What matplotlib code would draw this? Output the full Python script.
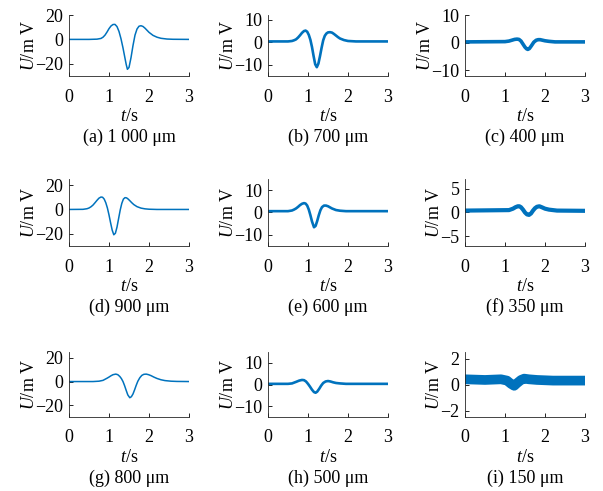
import matplotlib
matplotlib.use("Agg")
import matplotlib.pyplot as plt

plt.rcParams['font.family'] = 'Liberation Serif'
plt.rcParams['mathtext.fontset'] = 'custom'
plt.rcParams['mathtext.it'] = 'Liberation Serif:italic'
plt.rcParams['mathtext.rm'] = 'Liberation Serif'
plt.rcParams['font.size'] = 13

BLUE = "#0072BD"

# waveform key points (t in s, U in mV)
t_a = [0, 0.5, 0.7, 0.8, 0.85, 0.9, 0.95, 1.0, 1.05, 1.1, 1.15, 1.2, 1.25, 1.3, 1.35, 1.4, 1.43, 1.46, 1.5, 1.55,
       1.6, 1.65, 1.7, 1.75, 1.8, 1.85, 1.9, 1.95, 2.0, 2.1, 2.2, 2.3, 2.45, 2.6, 3.0]
u_a = [0, 0, 0.2, 0.8, 1.8, 3.5, 6, 8.8, 11, 12.2, 12.3, 10.5, 6.5, 0.5, -7, -15.5, -20.5, -24.5, -23, -15,
       -5, 3.5, 8.5, 10.8, 11.2, 10.6, 9.2, 7.5, 5.8, 3.3, 1.8, 0.9, 0.3, 0.1, 0]

t_b = [0, 0.5, 0.6, 0.65, 0.7, 0.75, 0.8, 0.85, 0.9, 0.94, 0.98, 1.02, 1.06, 1.1, 1.14, 1.18, 1.22, 1.26, 1.3,
       1.34, 1.38, 1.42, 1.46, 1.5, 1.55, 1.6, 1.65, 1.7, 1.75, 1.8, 1.9, 2.0, 2.2, 3.0]
u_b = [0.3, 0.3, 0.5, 0.8, 1.2, 2.0, 3.0, 4.1, 4.9, 5.1, 4.6, 3.2, 1.0, -2.2, -6.2, -9.8, -11.1, -9.5, -6.2,
       -2.5, 0.8, 2.8, 3.8, 4.3, 4.4, 4.2, 3.6, 2.9, 2.2, 1.6, 0.9, 0.5, 0.3, 0.3]

t_c = [0, 1.0, 1.1, 1.17, 1.24, 1.3, 1.35, 1.4, 1.45, 1.5, 1.54, 1.57, 1.61, 1.66, 1.72, 1.78, 1.83, 1.88, 1.94,
       2.0, 2.1, 2.25, 3.0]
u_c = [0.3, 0.4, 0.6, 0.9, 1.2, 1.3, 1.2, 0.6, -0.5, -1.6, -2.2, -2.4, -2.1, -1.1, 0.2, 0.9, 1.1, 1.1, 0.9,
       0.7, 0.5, 0.3, 0.3]

t_d = [0, 0.35, 0.45, 0.5, 0.55, 0.6, 0.65, 0.7, 0.75, 0.8, 0.84, 0.88, 0.92, 0.96, 1.0, 1.04, 1.08, 1.12, 1.16,
       1.2, 1.24, 1.28, 1.32, 1.36, 1.4, 1.44, 1.48, 1.52, 1.57, 1.62, 1.7, 1.8, 1.9, 2.0, 2.2, 3.0]
u_d = [0, 0.1, 0.6, 1.2, 2.2, 3.6, 5.5, 7.5, 9.3, 10.2, 10.0, 8.5, 5.5, 1.2, -4.5, -11, -17, -20.8, -19.5,
       -14.5, -7.5, -0.5, 5, 8.5, 9.7, 9.5, 8.5, 7.2, 5.5, 4.0, 2.3, 1.1, 0.5, 0.2, 0, 0]

t_e = [0, 0.5, 0.6, 0.65, 0.7, 0.75, 0.8, 0.85, 0.9, 0.94, 0.98, 1.02, 1.06, 1.1, 1.15, 1.19, 1.23, 1.27, 1.31,
       1.35, 1.4, 1.45, 1.5, 1.55, 1.6, 1.7, 1.8, 1.95, 3.0]
u_e = [0.6, 0.6, 0.9, 1.3, 1.8, 2.5, 3.3, 3.9, 4.2, 4.0, 3.1, 1.3, -1.2, -4.0, -6.6, -6.0, -3.8, -1.2, 1.0,
       2.4, 3.1, 3.1, 2.8, 2.3, 1.8, 1.1, 0.8, 0.6, 0.6]

t_f = [0, 1.1, 1.2, 1.26, 1.32, 1.36, 1.4, 1.45, 1.5, 1.55, 1.6, 1.65, 1.7, 1.75, 1.8, 1.86, 1.92, 2.0, 2.1,
       2.3, 3.0]
u_f = [0.4, 0.5, 0.8, 1.1, 1.3, 1.3, 1.1, 0.6, 0.0, -0.4, -0.5, -0.2, 0.4, 0.9, 1.2, 1.3, 1.1, 0.8, 0.6,
       0.4, 0.35]

t_g = [0, 0.6, 0.75, 0.85, 0.95, 1.0, 1.05, 1.1, 1.17, 1.22, 1.27, 1.31, 1.35, 1.39, 1.43, 1.47, 1.52, 1.56,
       1.6, 1.64, 1.68, 1.72, 1.77, 1.82, 1.87, 1.93, 1.99, 2.05, 2.12, 2.2, 2.3, 2.4, 2.55, 2.7, 3.0]
u_g = [0, 0, 0.3, 1.0, 2.8, 3.8, 4.9, 5.8, 6.3, 5.8, 4.3, 2.5, 0, -3.5, -7.5, -11.3, -13.7, -12.8,
       -10.5, -7.0, -3.2, 0.2, 3.2, 5.2, 6.1, 6.3, 5.8, 5.0, 3.8, 2.6, 1.5, 0.8, 0.3, 0.1, 0]

t_h = [0, 0.5, 0.6, 0.7, 0.78, 0.85, 0.9, 0.95, 1.0, 1.05, 1.1, 1.15, 1.19, 1.23, 1.28, 1.33, 1.38, 1.44, 1.5,
       1.56, 1.63, 1.7, 1.8, 1.95, 3.0]
u_h = [0.3, 0.3, 0.5, 1.2, 1.8, 2.1, 2.0, 1.4, 0.3, -1.0, -2.4, -3.5, -3.8, -3.3, -2.0, -0.5, 0.7, 1.4, 1.6,
       1.4, 1.0, 0.7, 0.5, 0.3, 0.3]

t_i = [0, 0.5, 0.9, 1.05, 1.15, 1.23, 1.3, 1.4, 1.48, 1.6, 1.8, 2.2, 2.6, 3.0]
u_i = [0.4, 0.35, 0.4, 0.3, 0.05, -0.1, 0.1, 0.35, 0.45, 0.4, 0.35, 0.3, 0.3, 0.3]

captions = ["(a) 1 000 μm", "(b) 700 μm", "(c) 400 μm",
            "(d) 900 μm", "(e) 600 μm", "(f) 350 μm",
            "(g) 800 μm", "(h) 500 μm", "(i) 150 μm"]
series = [(t_a, u_a), (t_b, u_b), (t_c, u_c),
          (t_d, u_d), (t_e, u_e), (t_f, u_f),
          (t_g, u_g), (t_h, u_h), (t_i, u_i)]
ylims = [(-30, 20), (-15, 12), (-12, 10),
         (-30, 25), (-15, 15), (-7, 7),
         (-30, 25), (-15, 15), (-2.5, 2.5)]
yticks = [[-20, 0, 20], [-10, 0, 10], [-10, 0, 10],
          [-20, 0, 20], [-10, 0, 10], [-5, 0, 5],
          [-20, 0, 20], [-10, 0, 10], [-2, 0, 2]]
widths = [1.1, 1.9, 2.6, 1.1, 1.9, 3.0, 1.1, 1.9, 7.0]

W, H = 603, 491
fig = plt.figure(figsize=(W / 100, H / 100), dpi=100)
lefts = [69, 268, 465]
rows = [(15, 76), (179, 246), (352, 417)]

for k in range(9):
    r, c = divmod(k, 3)
    top, bot = rows[r]
    ax = fig.add_axes([lefts[c] / W, 1 - bot / H, 120 / W, (bot - top) / H])
    t, u = series[k]
    ax.plot(t, u, color=BLUE, lw=widths[k], solid_joinstyle='round')
    ax.set_xlim(0, 3)
    ax.set_ylim(*ylims[k])
    ax.set_xticks([0, 1, 2, 3])
    ax.set_yticks(yticks[k])
    ax.set_yticklabels([str(v).replace('-', '\u2212') for v in yticks[k]])
    for s in ['top', 'right']:
        ax.spines[s].set_visible(False)
    for s in ['left', 'bottom']:
        ax.spines[s].set_linewidth(0.6)
        ax.spines[s].set_color('#262626')
    ax.tick_params(direction='in', length=3, width=0.6, labelsize=13)
    ax.tick_params(axis='x', pad=9)
    ax.tick_params(axis='y', pad=4)
    ax.set_xlabel('$t$/s', fontsize=13, labelpad=1.5)
    ax.set_ylabel('$U$/m V', fontsize=13, labelpad=-2)
    ax.annotate(captions[k], xy=(0.5, 0), xycoords='axes fraction', xytext=(0, -44),
                textcoords='offset points', ha='center', va='center', fontsize=13)

fig.savefig("out.png", dpi=100)
